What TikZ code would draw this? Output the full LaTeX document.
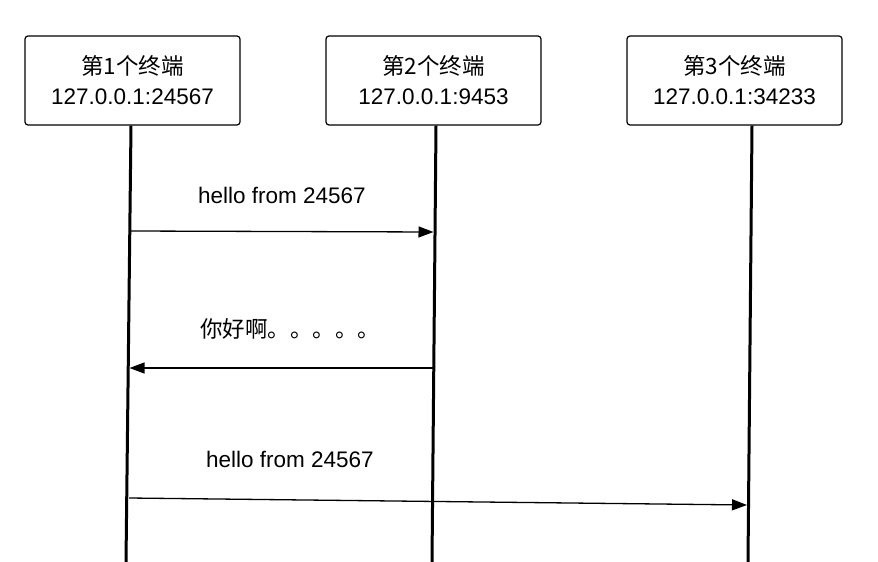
\documentclass[tikz,border=0pt]{standalone}
\usepackage{fontspec}
\setmainfont{Liberation Sans}
\newfontfamily\cjk{Noto Sans CJK SC}
\usetikzlibrary{arrows.meta}
\begin{document}
\begin{tikzpicture}[x=1pt,y=-1pt]
		\tikzstyle{terminal}=[draw,line width=1.2pt,rounded corners=3pt,minimum width=215pt,minimum height=89pt,align=center,font=\fontsize{22.5}{30}\selectfont]
		\tikzstyle{vie}=[line width=3pt]
		\tikzstyle{msg}=[line width=1.3pt,-{Triangle[length=15pt,width=11pt]}]
		\tikzstyle{etiquette}=[font=\fontsize{22.5}{26}\selectfont]
		\useasboundingbox (0,0) rectangle (878,562);
		\node[terminal] (t1) at (132.5,80.5) {{\cjk 第1个终端}\\127.0.0.1:24567};
		\node[terminal] (t2) at (433.5,80.5) {{\cjk 第2个终端}\\127.0.0.1:9453};
		\node[terminal] (t3) at (734.5,80.5) {{\cjk 第3个终端}\\127.0.0.1:34233};
		% lignes de vie
		\coordinate (h1) at (131,125.6); \coordinate (b1) at (126,562);
		\coordinate (h2) at (436,125.6); \coordinate (b2) at (432,562);
		\coordinate (h3) at (752,125.6); \coordinate (b3) at (748,562);
		\draw[vie] (h1) -- (b1);
		\draw[vie] (h2) -- (b2);
		\draw[vie] (h3) -- (b3);
		% messages
		\coordinate (m1a) at (131,231); \coordinate (m1b) at (433.5,232);
		\coordinate (m2a) at (433.5,368); \coordinate (m2b) at (129.5,368);
		\coordinate (m3a) at (129,498); \coordinate (m3b) at (747,505);
		\draw[msg] (m1a) -- (m1b);
		\draw[msg] (m2a) -- (m2b);
		\draw[msg] (m3a) -- (m3b);
		\node[etiquette] (e1) at (282,195) {hello from 24567};
		\node[etiquette] (e2) at (290,329) {\cjk 你好啊。。。。。};
		\node[etiquette] (e3) at (290,459) {hello from 24567};
	\end{tikzpicture}
\end{document}
